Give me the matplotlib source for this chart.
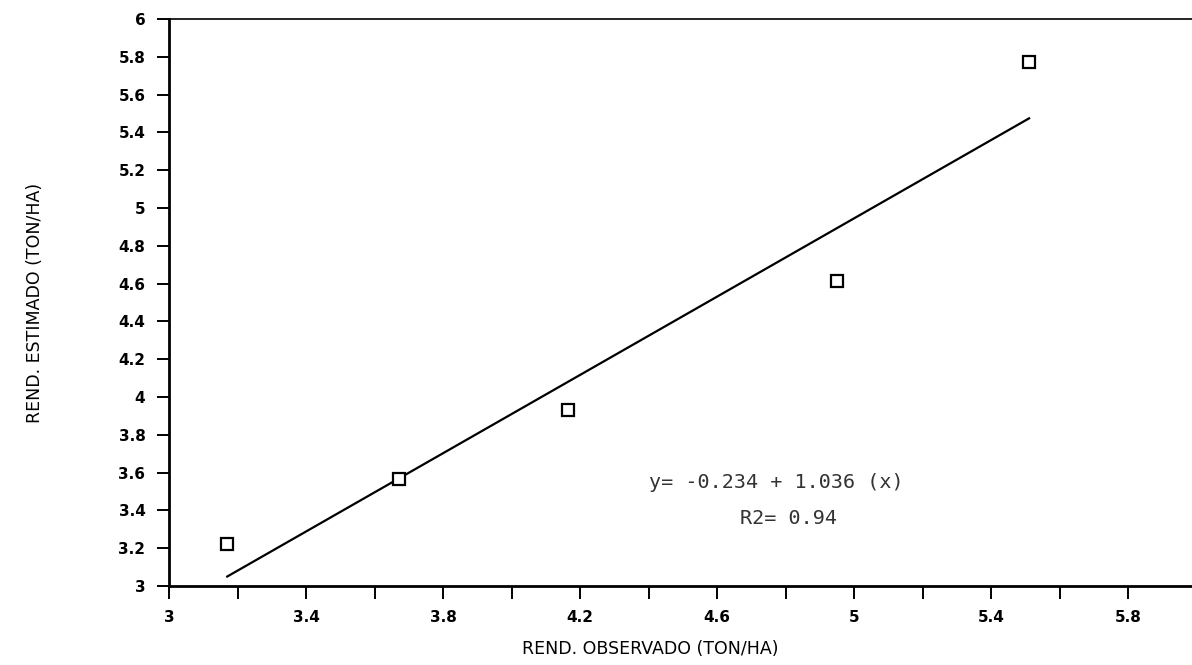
#!/usr/bin/env python3
"""Observed vs estimated yield scatter with fitted regression line."""

import matplotlib

matplotlib.use("Agg")
import matplotlib.pyplot as plt
import numpy as np

# Data
observado = [3.17, 3.67, 4.165, 4.95, 5.51]
estimado = [3.22, 3.565, 3.93, 4.615, 5.77]

intercepto = -0.234
pendiente = 1.036
r2 = 0.94

x_ticks = [3.0, 3.2, 3.4, 3.6, 3.8, 4.0, 4.2, 4.4, 4.6, 4.8, 5.0, 5.2, 5.4, 5.6, 5.8, 6.0]
x_labels = ["3", "", "3.4", "", "3.8", "", "4.2", "", "4.6", "", "5", "", "5.4", "", "5.8", ""]
y_ticks = [3.0, 3.2, 3.4, 3.6, 3.8, 4.0, 4.2, 4.4, 4.6, 4.8, 5.0, 5.2, 5.4, 5.6, 5.8, 6.0]
y_labels = ["3", "3.2", "3.4", "3.6", "3.8", "4", "4.2", "4.4", "4.6", "4.8",
            "5", "5.2", "5.4", "5.6", "5.8", "6"]

fig = plt.figure(figsize=(11.92, 6.65), dpi=100)
ax = fig.add_axes([169 / 1192, 79 / 665, 1028 / 1192, 567 / 665])

ax.plot(observado, estimado, linestyle="none", marker="s", markersize=8.5,
        markerfacecolor="white", markeredgecolor="black", markeredgewidth=1.6,
        zorder=3)

xs = np.array([min(observado), max(observado)])
ax.plot(xs, intercepto + pendiente * xs, color="black", linewidth=1.6, zorder=2)

ax.set_xlim(3.0, 6.0)
ax.set_ylim(3.0, 6.0)
ax.set_xticks(x_ticks)
ax.set_xticklabels(x_labels)
ax.set_yticks(y_ticks)
ax.set_yticklabels(y_labels)

ax.tick_params(axis="both", direction="out", length=9, width=1.4,
               labelsize=11, pad=8)
for lbl in ax.get_xticklabels() + ax.get_yticklabels():
    lbl.set_fontweight("bold")

ax.spines["left"].set_linewidth(2.0)
ax.spines["bottom"].set_linewidth(2.0)
ax.spines["top"].set_linewidth(1.2)
ax.spines["right"].set_visible(False)

ax.set_xlabel("REND. OBSERVADO (TON/HA)", fontsize=12.5)
ax.set_ylabel("REND. ESTIMADO (TON/HA)", fontsize=12.5)
# label positions in axes fraction (axes runs 169..1197 px, 19..586 px)
ax.xaxis.set_label_coords((650 - 169) / 1028, -(640 - 586) / 567)
ax.yaxis.set_label_coords(-(169 - 44) / 1028, 0.5)

ax.text(4.40, 3.545, f"y= {intercepto:.3f} + {pendiente:.3f} (x)",
        family="DejaVu Sans Mono", fontsize=14.5, color="#333333",
        fontweight="light", va="center", ha="left")
ax.text(4.665, 3.355, f"R2= {r2:.2f}",
        family="DejaVu Sans Mono", fontsize=14.5, color="#333333",
        fontweight="light", va="center", ha="left")

fig.savefig("out.png", dpi=100)
